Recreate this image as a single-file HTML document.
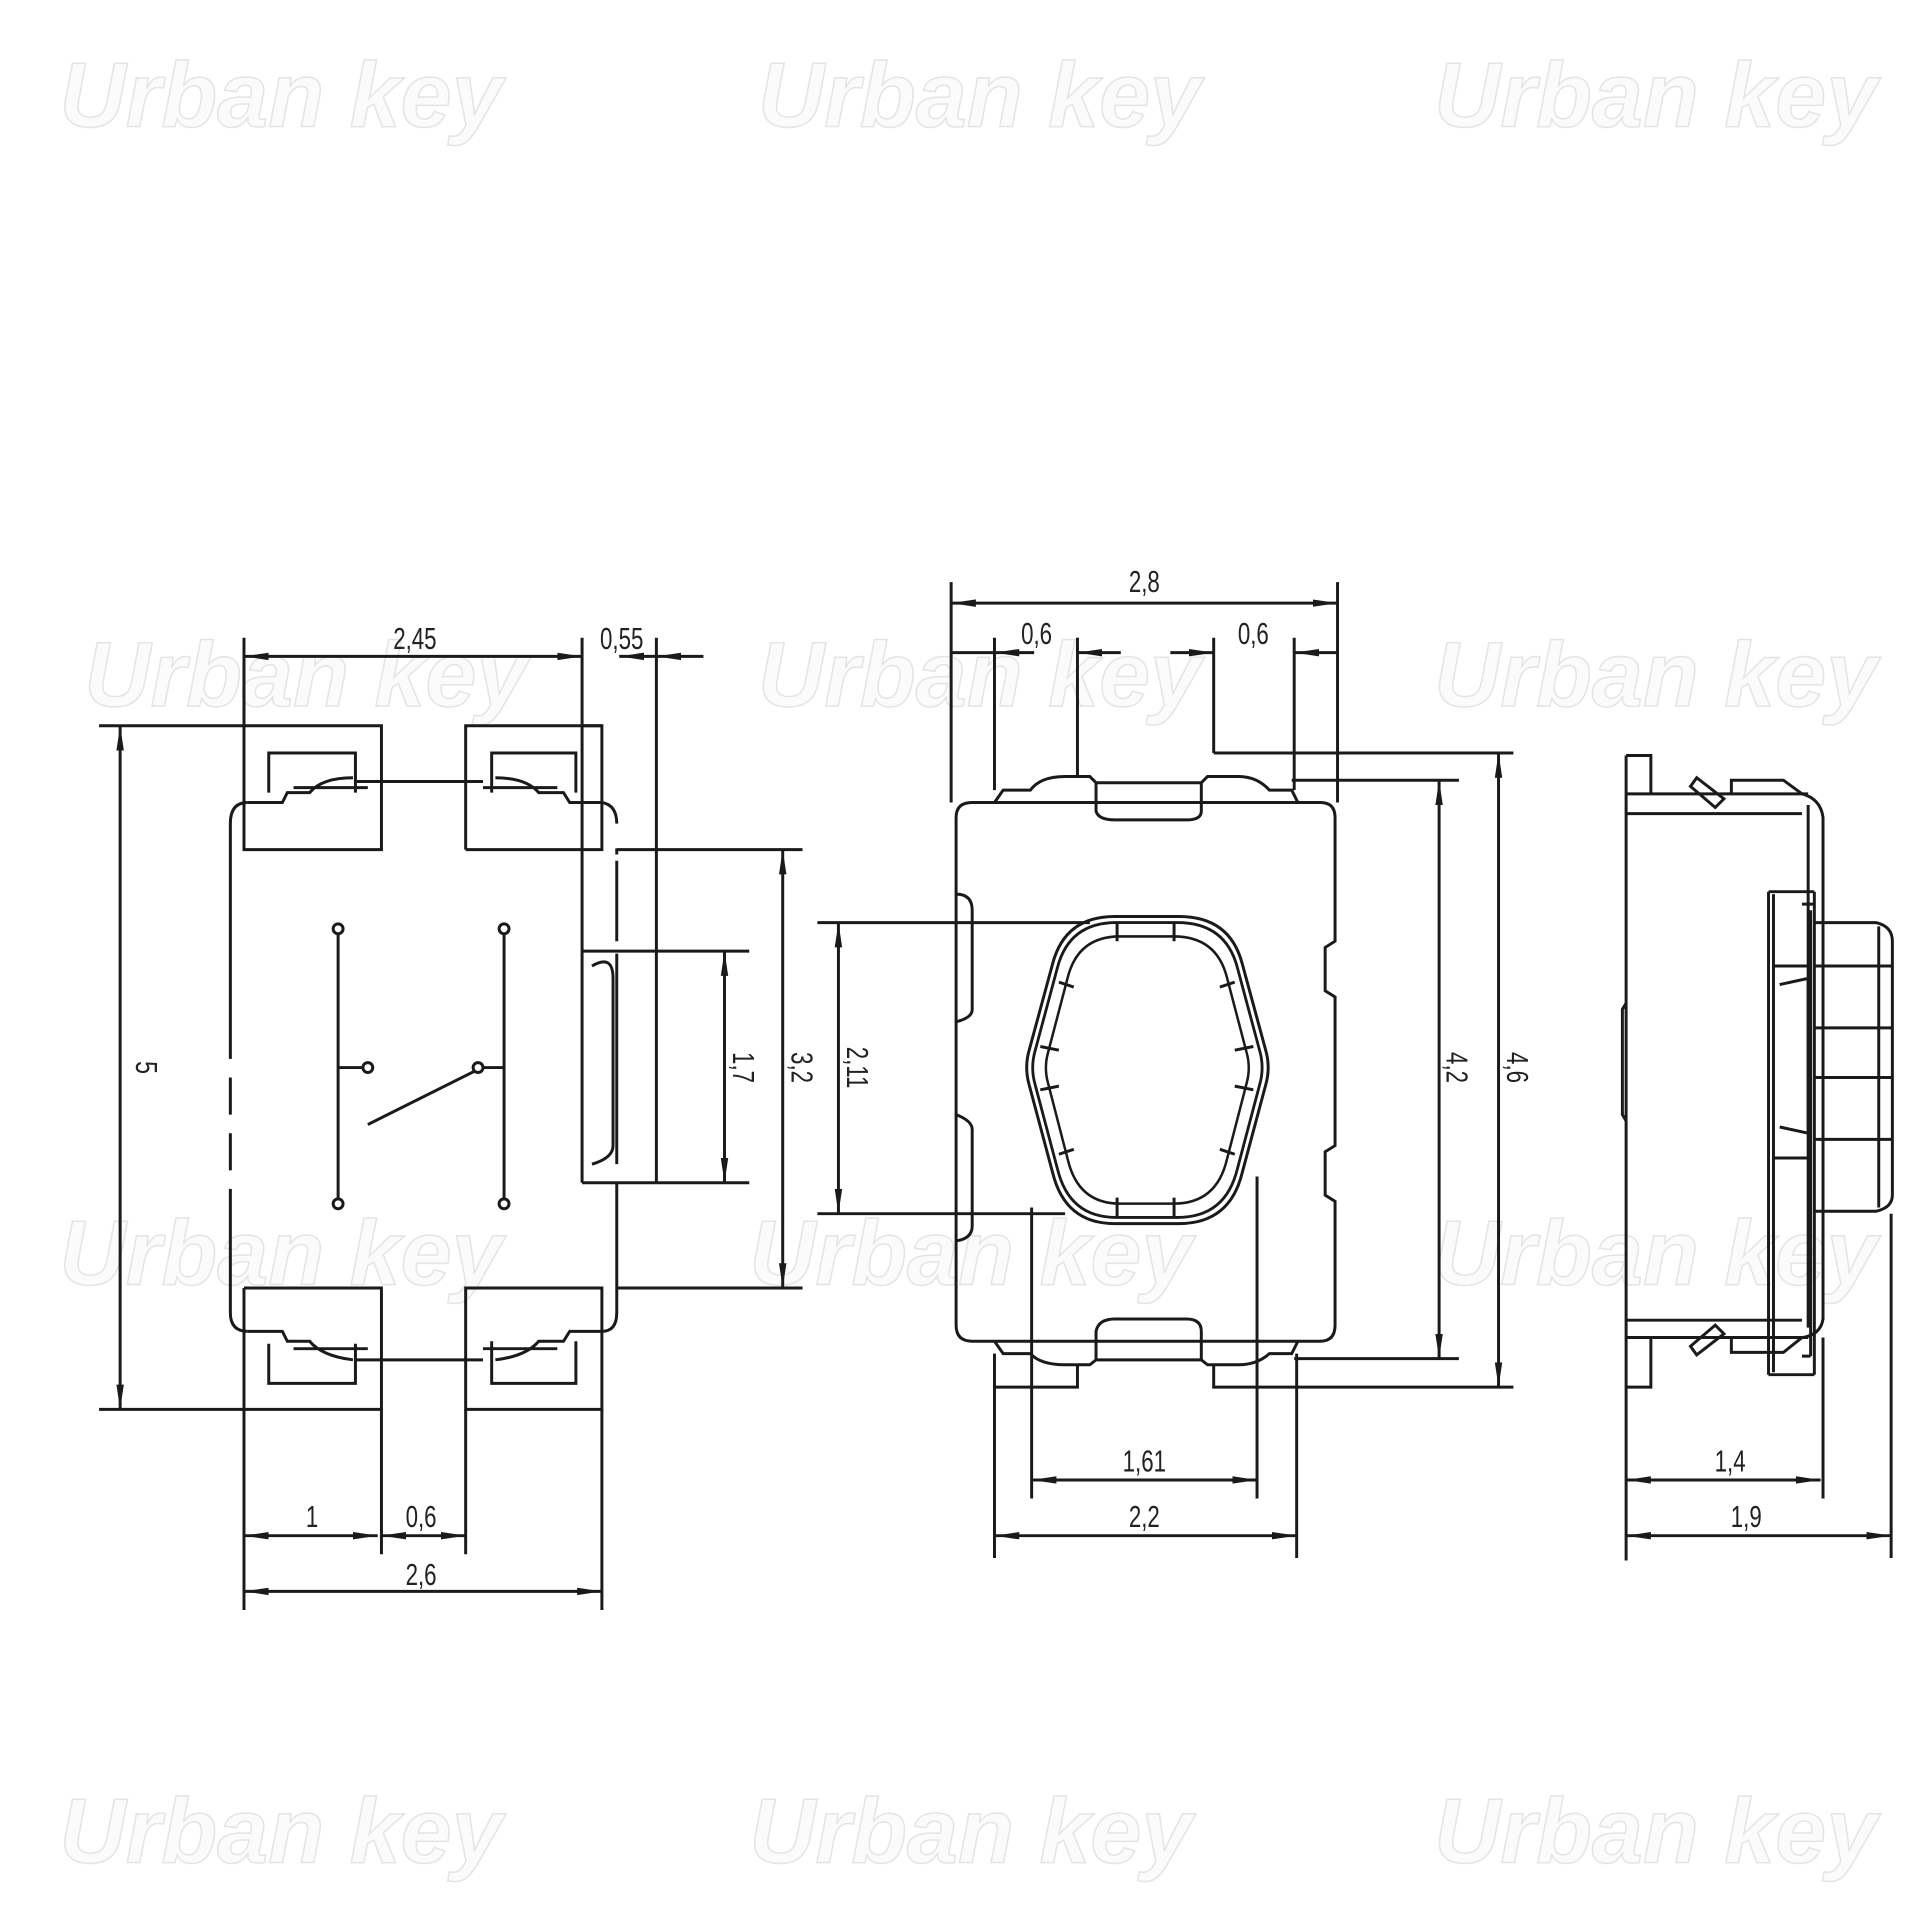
<!DOCTYPE html>
<html><head><meta charset="utf-8"><style>
html,body{margin:0;padding:0;background:#fff;width:1932px;height:1932px;overflow:hidden}
svg{display:block}
.l{fill:none;stroke:#1a1a1a;stroke-width:2.4}
.t{font-family:"Liberation Sans",sans-serif;font-size:25px;fill:#222}
.w{font-family:"Liberation Sans",sans-serif;font-weight:bold;font-style:italic;font-size:74px;fill:#fbfbfb;stroke:#e4e4e4;stroke-width:1.2}
</style></head><body>
<svg width="1932" height="1932" viewBox="0 0 1560 1560" xmlns="http://www.w3.org/2000/svg">
<defs>
<marker id="a" viewBox="0 0 20 8" refX="20" refY="4" markerWidth="20" markerHeight="8" markerUnits="userSpaceOnUse" orient="auto-start-reverse"><path d="M0,1 L20,4 L0,7 Z" fill="#1a1a1a"/></marker>
</defs>
<g class="w">
<text x="48" y="102">Urban key</text><text x="612" y="102">Urban key</text><text x="1158" y="102">Urban key</text>
<text x="68" y="570">Urban key</text><text x="612" y="570">Urban key</text><text x="1158" y="570">Urban key</text>
<text x="48" y="1037">Urban key</text><text x="605" y="1037">Urban key</text><text x="1158" y="1037">Urban key</text>
<text x="48" y="1504">Urban key</text><text x="605" y="1504">Urban key</text><text x="1158" y="1504">Urban key</text>
</g>

<g class="l">
<path d="M197,648 L200,648 Q186,648 186,665 L186,855 M186,870 L186,900 M186,915 L186,945 M186,960 L186,1060 Q186,1075 200,1075"/>
<path d="M486,648 Q498,650 498,665 M498,685 L498,690 M498,955 L498,1060 Q498,1075 486,1075"/>
<path d="M197,530 L197,686 L308,686 L308,586 L197,586"/>
<path d="M376,686 L376,586 L486,586 L486,686 L376,686"/>
<path d="M217,640 L217,608 L287,608 L287,640 M200,648 L228,648 L232,640 L250,640 Q260,628 285,628 M237,636 L297,636 M287,631 L390,631 M400,628 Q425,628 435,640 L455,640 L460,648 L486,648 M390,636 L450,636 M397,640 L397,608 L465,608 L465,640"/>
<path d="M197,1040 L197,1138 L308,1138 L308,1040 L197,1040"/>
<path d="M376,1040 L486,1040 L486,1138 L376,1138 Z"/>
<path d="M217,1085 L217,1117 L287,1117 L287,1085 M200,1075 L228,1075 L232,1083 L250,1083 Q260,1095 285,1098 M237,1089 L297,1089 M287,1098 L390,1098 M400,1098 Q425,1095 435,1083 L455,1083 L460,1075 L486,1075 M390,1089 L450,1089 M397,1083 L397,1117 L465,1117 L465,1083"/>
<path d="M197,515 L197,586 M470,515 L470,955 M530,515 L530,955 M80,586 L197,586 M80,1138 L197,1138"/>
<path d="M470,768 L605,768 M470,955 L605,955 M498,686 L648,686 M498,1040 L648,1040"/>
<path d="M470,586 L486,586 M498,695 L498,760 M498,770 L498,940"/>
<path d="M478,780 Q495,770 495,790 L495,925 Q495,935 478,940"/>
<path d="M197,1138 L197,1300 M308,1138 L308,1255 M376,1138 L376,1255 M486,1138 L486,1300"/>
<circle cx="273" cy="750" r="4"/><circle cx="407" cy="750" r="4"/><circle cx="273" cy="972" r="4"/><circle cx="407" cy="972" r="4"/>
<circle cx="297" cy="862" r="4"/><circle cx="386" cy="862" r="4"/>
<path d="M273,754 L273,968 M407,754 L407,968 M273,862 L293,862 M390,862 L407,862 M297,908 L383,865"/>
<path d="M97,586 L97,1138" marker-start="url(#a)" marker-end="url(#a)"/>
<path d="M197,530 L470,530" marker-start="url(#a)" marker-end="url(#a)"/>
<path d="M500,530 L530,530" marker-start="url(#a)"/><path d="M530,530 L568,530" marker-start="url(#a)"/>
<path d="M585,768 L585,955" marker-start="url(#a)" marker-end="url(#a)"/>
<path d="M632,686 L632,1040" marker-start="url(#a)" marker-end="url(#a)"/>
<path d="M677,745 L677,980" marker-start="url(#a)" marker-end="url(#a)"/>
<path d="M660,745 L880,745 M660,980 L860,980"/>
<path d="M197,1240 L305,1240" marker-start="url(#a)" marker-end="url(#a)"/>
<path d="M308,1240 L376,1240" marker-start="url(#a)" marker-end="url(#a)"/>
<path d="M197,1285 L486,1285" marker-start="url(#a)" marker-end="url(#a)"/>
</g>
<g class="t">
<text transform="translate(110,862) rotate(90) scale(0.75,1)" text-anchor="middle">5</text>
<text transform="translate(335,524) scale(0.72,1)" text-anchor="middle">2,45</text>
<text transform="translate(502,524) scale(0.72,1)" text-anchor="middle">0,55</text>
<text transform="translate(592,862) rotate(90) scale(0.72,1)" text-anchor="middle">1,7</text>
<text transform="translate(639,862) rotate(90) scale(0.72,1)" text-anchor="middle">3,2</text>
<text transform="translate(684,862) rotate(90) scale(0.72,1)" text-anchor="middle">2,11</text>
<text transform="translate(252,1233) scale(0.72,1)" text-anchor="middle">1</text>
<text transform="translate(340,1233) scale(0.72,1)" text-anchor="middle">0,6</text>
<text transform="translate(340,1280) scale(0.72,1)" text-anchor="middle">2,6</text>
</g>

<g class="l">
<path d="M785,648 L1066,648 Q1078,648 1078,660 L1078,760 L1070,765 L1070,800 L1078,805 L1078,925 L1070,930 L1070,965 L1078,970 L1078,1070 Q1078,1083 1066,1083 L785,1083 Q772,1083 772,1070 L772,660 Q772,648 785,648 Z"/>
<path d="M772,722 Q785,722 785,735 L785,815 Q785,822 772,825 M772,900 Q785,905 785,912 L785,990 Q785,1000 772,1002"/>
<path d="M803,648 L810,638 L832,638 Q840,627 860,627 L880,627 L885,632 L970,632 L975,627 L1000,627 Q1015,627 1025,638 L1043,638 L1048,648"/>
<path d="M885,632 L885,655 Q887,662 900,662 L958,662 Q970,662 970,655 L970,632"/>
<path d="M803,1083 L810,1093 L832,1093 Q840,1102 860,1102 L880,1102 L885,1098 L970,1098 L975,1102 L1000,1102 Q1015,1102 1025,1093 L1043,1093 L1048,1083"/>
<path d="M885,1098 L885,1075 Q887,1065 900,1065 L958,1065 Q970,1065 970,1075 L970,1098"/>
<path d="M768,470 L768,648 M1080,470 L1080,648 M803,515 L803,638 M870,515 L870,627 M980,515 L980,608 M1045,515 L1045,638 M980,608 L1222,608 M1043,630 L1178,630"/>
<path d="M803,1093 L803,1258 M1047,1093 L1047,1258 M833,975 L833,1210 M1015,950 L1015,1210 M870,1102 L870,1120 L803,1120 M980,1102 L980,1120 L1222,1120 M1045,1097 L1178,1097"/>
<path d="M768,487 L1080,487" marker-start="url(#a)" marker-end="url(#a)"/>
<path d="M768,527 L803,527"/><path d="M870,527 L905,527" marker-start="url(#a)"/><path d="M835,527 L803,527" marker-end="url(#a)"/>
<path d="M945,527 L980,527" marker-end="url(#a)"/><path d="M1080,527 L1045,527" marker-end="url(#a)"/>
<path d="M1162,630 L1162,1097" marker-start="url(#a)" marker-end="url(#a)"/>
<path d="M1210,608 L1210,1120" marker-start="url(#a)" marker-end="url(#a)"/>
<path d="M833,1195 L1015,1195" marker-start="url(#a)" marker-end="url(#a)"/>
<path d="M803,1240 L1047,1240" marker-start="url(#a)" marker-end="url(#a)"/>
<g>
<path d="M900,740 L952,740 Q993,740 1003,778 L1022,848 Q1026,862 1022,876 L1003,947 Q993,988 952,988 L900,988 Q860,988 850,947 L831,876 Q827,862 831,848 L850,778 Q860,740 900,740 Z"/>
<path transform="translate(926,864) scale(0.95,0.96) translate(-926,-864)" d="M900,740 L952,740 Q993,740 1003,778 L1022,848 Q1026,862 1022,876 L1003,947 Q993,988 952,988 L900,988 Q860,988 850,947 L831,876 Q827,862 831,848 L850,778 Q860,740 900,740 Z"/>
<path transform="translate(926,864) scale(0.84,0.87) translate(-926,-864)" d="M900,740 L952,740 Q993,740 1003,778 L1022,848 Q1026,862 1022,876 L1003,947 Q993,988 952,988 L900,988 Q860,988 850,947 L831,876 Q827,862 831,848 L850,778 Q860,740 900,740 Z"/>
<path d="M902,745 L902,760 M948,745 L948,760 M902,967 L902,983 M948,967 L948,983 M840,845 L855,848 M840,880 L855,877 M1012,845 L997,848 M1012,880 L997,877 M855,793 L867,797 M855,932 L867,928 M997,793 L985,797 M997,932 L985,928"/>
</g>
</g>
<g class="t">
<text transform="translate(924,478) scale(0.72,1)" text-anchor="middle">2,8</text>
<text transform="translate(837,520) scale(0.72,1)" text-anchor="middle">0,6</text>
<text transform="translate(1012,520) scale(0.72,1)" text-anchor="middle">0,6</text>
<text transform="translate(1168,862) rotate(90) scale(0.72,1)" text-anchor="middle">4,2</text>
<text transform="translate(1217,862) rotate(90) scale(0.72,1)" text-anchor="middle">4,6</text>
<text transform="translate(924,1188) scale(0.72,1)" text-anchor="middle">1,61</text>
<text transform="translate(924,1233) scale(0.72,1)" text-anchor="middle">2,2</text>
</g>

<g class="l">
<path d="M1313,610 L1333,610 L1333,641 M1313,610 L1313,1260 M1313,1120 L1333,1120 L1333,1080"/>
<path d="M1313,641 L1460,641 M1313,657 L1455,657 M1313,1066 L1455,1066 M1313,1080 L1460,1080"/>
<path d="M1455,641 Q1470,645 1472,660 L1472,1065 Q1470,1078 1455,1080 M1460,650 L1460,1072"/>
<path d="M1398,641 L1398,630 L1440,630 L1455,641 M1398,1080 L1398,1092 L1440,1092 L1455,1080"/>
<path d="M1365,635 L1370,628 L1392,645 L1385,652 Z M1365,1087 L1370,1094 L1392,1077 L1385,1070 Z"/>
<path d="M1428,720 L1428,1110 M1428,720 L1465,720 M1428,1110 L1465,1110 M1432,722 L1432,1108 M1465,720 L1465,1110"/>
<path d="M1465,730 L1455,730 M1462,735 L1462,1095 M1462,1095 L1455,1095"/>
<path d="M1465,745 L1515,745 Q1528,748 1528,760 L1528,965 Q1528,975 1515,978 L1465,978 M1517,748 L1517,975 M1465,780 L1528,780 M1465,830 L1528,830 M1465,870 L1528,870 M1465,920 L1528,920"/>
<path d="M1432,780 L1462,780 M1432,935 L1462,935 M1437,795 L1460,790 L1460,915 L1437,910"/>
<path d="M1313,1195 L1470,1195" marker-start="url(#a)" marker-end="url(#a)"/>
<path d="M1313,1240 L1527,1240" marker-start="url(#a)" marker-end="url(#a)"/>
<path d="M1472,1080 L1472,1210 M1527,980 L1527,1258"/>
<path d="M1313,810 L1310,815 L1310,900 L1313,905"/>
</g>
<g class="t">
<text transform="translate(1397,1188) scale(0.72,1)" text-anchor="middle">1,4</text>
<text transform="translate(1410,1233) scale(0.72,1)" text-anchor="middle">1,9</text>
</g>
</svg>
</body></html>
